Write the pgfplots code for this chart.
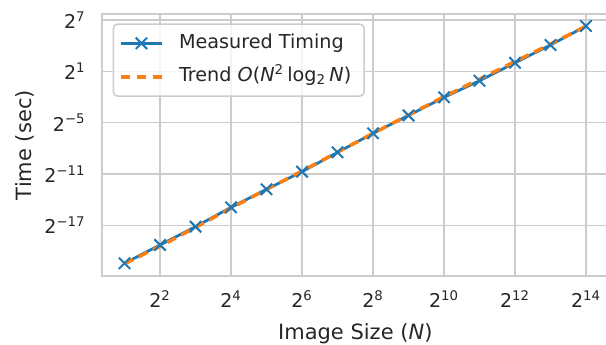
\documentclass[border=0pt]{standalone}
\usepackage{fontspec}
\setmainfont{DejaVu Sans}
\usepackage{pgfplots}
\pgfplotsset{compat=1.18}
\definecolor{tabblue}{HTML}{1F77B4}
\definecolor{taborange}{HTML}{FF7F0E}
\definecolor{gridgray}{HTML}{CCCCCC}
\definecolor{txt}{HTML}{262626}
\begin{document}
\begin{tikzpicture}
\begin{axis}[
  xmode=log, ymode=log, log basis x=2, log basis y=2,
  scale only axis, width=253.8bp, height=130.85bp,
  xmin=1.2746, xmax=25710, ymin=1.2513e-7, ymax=203.7,
  xtick={4,16,64,256,1024,4096,16384},
  xticklabels={2\textsuperscript{2},2\textsuperscript{4},2\textsuperscript{6},2\textsuperscript{8},2\textsuperscript{10},2\textsuperscript{12},2\textsuperscript{14}},
  ytick={7.62939453125e-6,4.8828125e-4,0.03125,2,128},
  yticklabels={2\textsuperscript{−17},2\textsuperscript{−11},2\textsuperscript{−5},2\textsuperscript{1},2\textsuperscript{7}},
  xminorticks=false, yminorticks=false,
  major tick length=0pt,
  grid=major, major grid style={draw=gridgray, line width=0.75bp},
  axis line style={draw=gridgray, line width=1bp},
  ticklabel style={font=\fontsize{9.5bp}{11bp}\selectfont, text=txt, inner sep=0pt},
  xticklabel style={anchor=base, yshift=-15.65bp},
  yticklabel style={anchor=east, xshift=-7.75bp},
  label style={font=\fontsize{10.5bp}{12bp}\selectfont, text=txt},
  xlabel={Image Size (\textit{N})},
  ylabel={Time (sec)},
  xlabel style={at={(axis description cs:0.5,0)}, anchor=base, yshift=-31.5bp},
  ylabel style={at={(axis description cs:-0.1507,0.5)}, anchor=center},
  legend image code/.code={\draw[mark repeat=2, mark phase=2] plot coordinates {(0bp,0bp) (10.35bp,0bp) (20.7bp,0bp)};},
  legend style={at={(axis description cs:0.022,0.965)}, anchor=north west,
    draw=gridgray, line width=0.75bp, rounded corners=2bp, fill=white,
    fill opacity=0.8, text opacity=1, text=txt,
    font=\fontsize{9.6bp}{11bp}\selectfont,
    inner xsep=2.8bp, inner ysep=2.8bp, row sep=3.3bp, column sep=4bp,
    nodes={inner xsep=3.6bp, inner ysep=2bp, text height=7.2bp, text depth=2.3bp},
    cells={anchor=west}},
]
\addplot[color=tabblue, line width=1.4bp, mark=x, mark size=4bp, mark options={line width=1bp}] coordinates {
  (2,3.515e-7) (4,1.5493e-6) (8,6.829e-6) (16,3.2708e-5) (32,1.4120e-4)
  (64,5.8877e-4) (128,2.8201e-3) (256,1.3139e-2) (512,0.056328) (1024,0.24316)
  (2048,0.93303) (4096,4.0278) (8192,16.912) (16384,78.793)
};
\addlegendentry{Measured Timing}
\addplot[color=taborange, line width=1.7bp, dash pattern=on 4.8bp off 3.15bp] coordinates {
  (2,3.3717e-7) (4,1.3963e-6) (8,6.416e-6) (16,3.0518e-5) (32,1.4022e-4)
  (64,6.2236e-4) (128,2.8596e-3) (256,1.3139e-2) (512,0.058315) (1024,0.25882)
  (2048,1.07177) (4096,4.4383) (8192,18.379) (16384,77.71)
};
\addlegendentry{Trend \textit{O}(\textit{N}\textsuperscript{2}\,log\textsubscript{2}\,\textit{N})}
\end{axis}
\pgfresetboundingbox
\path[use as bounding box] (-50.75bp,-34.5bp) rectangle (252.25bp,138bp);
\end{tikzpicture}
\end{document}
